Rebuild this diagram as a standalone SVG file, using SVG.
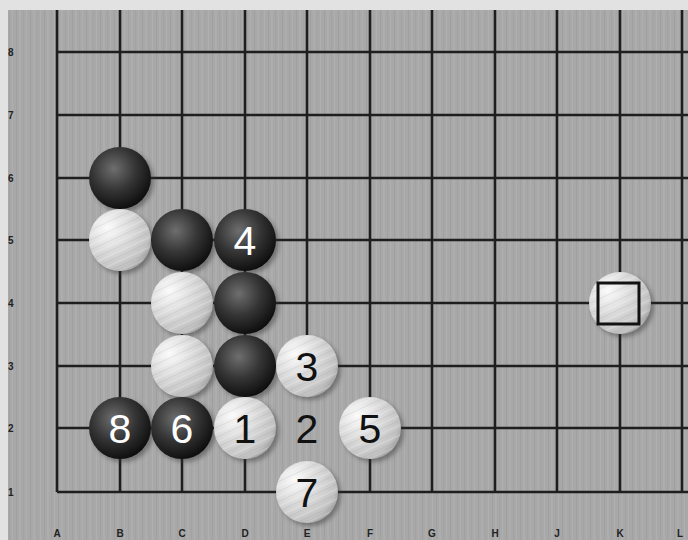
<svg xmlns="http://www.w3.org/2000/svg" width="688" height="540" viewBox="0 0 688 540">
<defs>
<pattern id="wood" width="14" height="10" patternUnits="userSpaceOnUse">
<rect width="14" height="10" fill="#a8a8a8"/>
<rect x="2" width="1" height="10" fill="#a0a0a0"/>
<rect x="5" width="2" height="10" fill="#adadad"/>
<rect x="9" width="1" height="10" fill="#a3a3a3"/>
<rect x="12" width="1" height="10" fill="#afafaf"/>
</pattern>
<radialGradient id="blk" cx="0.4" cy="0.35" r="0.7">
<stop offset="0" stop-color="#6e6e6e"/>
<stop offset="0.5" stop-color="#353535"/>
<stop offset="1" stop-color="#0a0a0a"/>
</radialGradient>
<radialGradient id="wht" cx="0.3" cy="0.3" r="0.8">
<stop offset="0" stop-color="#fafafa"/>
<stop offset="0.45" stop-color="#dcdcdc"/>
<stop offset="0.85" stop-color="#c2c2c2"/>
<stop offset="1" stop-color="#9c9c9c"/>
</radialGradient>
<pattern id="grain" width="9" height="9" patternUnits="userSpaceOnUse" patternTransform="rotate(-25)">
<rect width="9" height="2" fill="#ffffff" opacity="0.18"/>
<rect y="5" width="9" height="1" fill="#888" opacity="0.15"/>
</pattern>
<filter id="sh" x="-30%" y="-30%" width="160%" height="160%">
<feGaussianBlur stdDeviation="2"/>
</filter>
<g id="bstone">
<circle cx="3" cy="3" r="31" fill="#333" opacity="0.45" filter="url(#sh)"/>
<circle r="31" fill="url(#blk)"/>
</g>
<g id="wstone">
<circle cx="3" cy="3" r="31" fill="#333" opacity="0.45" filter="url(#sh)"/>
<circle r="31" fill="url(#wht)"/>
<circle r="31" fill="url(#grain)"/>
</g>
</defs>
<style>
.grid line{stroke:#1e1e1e;stroke-width:2.6}
.lab{font-family:"Liberation Sans",Arial,sans-serif;font-weight:bold;font-size:10px;fill:#222}
.num{font-family:"Liberation Sans",Arial,sans-serif;font-size:41px;text-anchor:middle}
.onw{fill:#111}
.onb{fill:#fff}
</style>
<rect width="688" height="540" fill="#e2e2e2"/>
<rect x="8" y="10" width="680" height="530" fill="url(#wood)"/>
<g id="grid" class="grid">
<line x1="57" y1="10" x2="57" y2="492"/>
<line x1="120" y1="10" x2="120" y2="492"/>
<line x1="182" y1="10" x2="182" y2="492"/>
<line x1="245" y1="10" x2="245" y2="492"/>
<line x1="307" y1="10" x2="307" y2="492"/>
<line x1="370" y1="10" x2="370" y2="492"/>
<line x1="432" y1="10" x2="432" y2="492"/>
<line x1="495" y1="10" x2="495" y2="492"/>
<line x1="557" y1="10" x2="557" y2="492"/>
<line x1="620" y1="10" x2="620" y2="492"/>
<line x1="682" y1="10" x2="682" y2="492"/>
<line x1="57" y1="52" x2="688" y2="52"/>
<line x1="57" y1="115" x2="688" y2="115"/>
<line x1="57" y1="178" x2="688" y2="178"/>
<line x1="57" y1="240" x2="688" y2="240"/>
<line x1="57" y1="303" x2="688" y2="303"/>
<line x1="57" y1="366" x2="688" y2="366"/>
<line x1="57" y1="428" x2="688" y2="428"/>
<line x1="57" y1="492" x2="688" y2="492"/>
</g>
<g id="labels" class="lab">
<text x="8" y="56">8</text>
<text x="8" y="119">7</text>
<text x="8" y="182">6</text>
<text x="8" y="244">5</text>
<text x="8" y="307">4</text>
<text x="8" y="370">3</text>
<text x="8" y="432">2</text>
<text x="8" y="496">1</text>
<g text-anchor="middle">
<text x="57" y="537">A</text>
<text x="120" y="537">B</text>
<text x="182" y="537">C</text>
<text x="245" y="537">D</text>
<text x="307" y="537">E</text>
<text x="370" y="537">F</text>
<text x="432" y="537">G</text>
<text x="495" y="537">H</text>
<text x="557" y="537">J</text>
<text x="620" y="537">K</text>
<text x="680" y="537">L</text>
</g>
</g>
<g id="E2"><rect x="270" y="392" width="74" height="72" fill="url(#wood)"/><text class="num onw" x="307" y="443">2</text></g>
<g id="B6"><use href="#bstone" x="120" y="178"/></g>
<g id="B5"><use href="#wstone" x="120" y="240"/></g>
<g id="C5"><use href="#bstone" x="182" y="240"/></g>
<g id="D5"><use href="#bstone" x="245" y="240"/><text class="num onb" x="245" y="255">4</text></g>
<g id="C4"><use href="#wstone" x="182" y="303"/></g>
<g id="D4"><use href="#bstone" x="245" y="303"/></g>
<g id="C3"><use href="#wstone" x="182" y="366"/></g>
<g id="D3"><use href="#bstone" x="245" y="366"/></g>
<g id="E3"><use href="#wstone" x="307" y="366"/><text class="num onw" x="307" y="381">3</text></g>
<g id="B2"><use href="#bstone" x="120" y="428"/><text class="num onb" x="120" y="443">8</text></g>
<g id="C2"><use href="#bstone" x="182" y="428"/><text class="num onb" x="182" y="443">6</text></g>
<g id="D2"><use href="#wstone" x="245" y="428"/><text class="num onw" x="245" y="443">1</text></g>
<g id="F2"><use href="#wstone" x="370" y="428"/><text class="num onw" x="370" y="443">5</text></g>
<g id="E1"><use href="#wstone" x="307" y="492"/><text class="num onw" x="307" y="507">7</text></g>
<g id="K4"><use href="#wstone" x="620" y="303"/><rect x="598" y="283" width="41" height="41" fill="none" stroke="#111" stroke-width="3"/></g>
</svg>
